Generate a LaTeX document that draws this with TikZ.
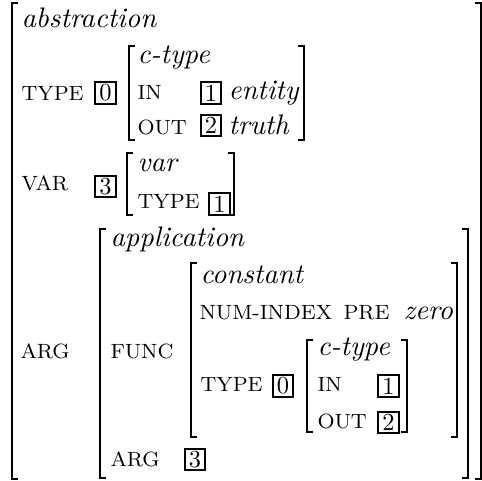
\documentclass[tikz,border=0pt]{standalone}
\tikzset{
  txt/.style={inner sep=0pt, anchor=base west, font=\fontsize{10.95}{13}\selectfont},
  sc/.style={inner sep=0pt, anchor=base west, font=\fontsize{8}{10}\selectfont},
  idx/.style={draw, line width=0.7pt, minimum width=7.9pt, minimum height=8.4pt, inner sep=0pt, font=\fontsize{9.5}{11}\selectfont},
  brk/.style={line width=0.55pt, line cap=butt, line join=miter}
}
\newcommand\avmL[3]{\draw[brk] ({#1+6},#2) -- (#1,#2) -- (#1,#3) -- ({#1+6},#3);}
\newcommand\avmR[3]{\draw[brk] ({#1-6},#2) -- (#1,#2) -- (#1,#3) -- ({#1-6},#3);}
\begin{document}
\begin{tikzpicture}[x=0.3876pt, y=-0.3876pt]
\useasboundingbox (0,0) rectangle (482,481);
% outer matrix
\avmL{12}{3}{479}
\avmR{481}{3}{479}
\node[txt] (abs) at (21,28) {\textit{abstraction}};
\node[sc] (type1) at (21,101) {TYPE};
\node[idx] (b0a) at (105.5,93) {0};
\avmL{129}{46}{140}
\avmR{304}{46}{140}
\node[txt] (ct1) at (137,64) {\textit{c-type}};
\node[sc] (in1) at (137,100) {IN};
\node[idx] (b1a) at (211,93) {1};
\node[txt] (ent) at (228,100) {\textit{entity}};
\node[sc] (out1) at (137,135) {OUT};
\node[idx] (b2a) at (211,125.5) {2};
\node[txt] (tru) at (228,135) {\textit{truth}};
% VAR
\node[sc] (var1) at (21,191) {VAR};
\node[idx] (b3a) at (105.5,186.5) {3};
\avmL{127}{153}{215}
\avmR{234}{153}{215}
\node[txt] (var2) at (137,172) {\textit{var}};
\node[sc] (type2) at (137,209) {TYPE};
\node[idx] (b1b) at (219.5,204) {1};
% ARG
\node[sc] (arg1) at (20,359) {ARG};
\avmL{100}{229}{478}
\avmR{468}{229}{478}
\node[txt] (app) at (110,247) {\textit{application}};
\node[sc] (func) at (110,359) {FUNC};
\avmL{191}{263}{437}
\avmR{457}{263}{437}
\node[txt] (con) at (200,284) {\textit{constant}};
\node[sc] (num) at (199,320) {NUM-INDEX};
\node[sc] (pre) at (343,320) {PRE};
\node[txt] (zero) at (403,320) {\textit{zero}};
\node[sc] (type3) at (200,392) {TYPE};
\node[idx] (b0b) at (283,386) {0};
\avmL{307}{340}{432}
\avmR{407}{340}{432}
\node[txt] (ct2) at (317,356) {\textit{c-type}};
\node[sc] (in2) at (317,392) {IN};
\node[idx] (b1c) at (388.5,386) {1};
\node[sc] (out2) at (317,429) {OUT};
\node[idx] (b2b) at (388.5,422.5) {2};
\node[sc] (arg2) at (110,467) {ARG};
\node[idx] (b3b) at (195,459.5) {3};
\end{tikzpicture}
\end{document}
